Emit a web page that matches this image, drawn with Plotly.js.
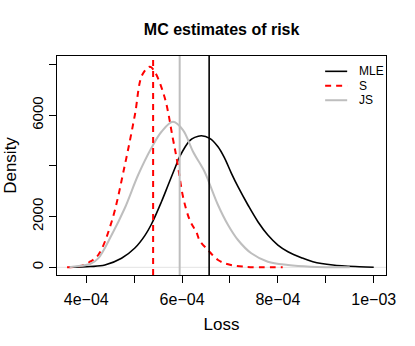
<!DOCTYPE html>
<html>
<head>
<meta charset="utf-8">
<script src="https://cdn.plot.ly/plotly-3.0.1.min.js"></script>
<style>
  html, body { margin: 0; padding: 0; background: #ffffff; }
  #graph { width: 415px; height: 346px; }
</style>
</head>
<body>
<div id="graph"></div>
<script>
// MC estimates of risk: density of the loss for three estimators

// series values (loss in units of 1e-4, density)
var mleLoss = [3.64, 4.08, 4.39, 4.737, 5.015, 5.223, 5.36, 5.57, 5.71, 5.85, 5.95, 6.16, 6.265, 6.404, 6.577, 6.75, 6.89, 7.03, 7.167, 7.375, 7.583, 7.79, 8.0, 8.21, 8.49, 8.73, 9.146, 9.70, 10.0];
var mleDens = [2, 30, 90, 355, 760, 1250, 1700, 2590, 3250, 3910, 4366, 5000, 5130, 5196, 5093, 4761, 4303, 3711, 3182, 2460, 1800, 1275, 880, 616, 379, 221, 91, 24, 4];

var sLoss = [3.60, 3.87, 4.06, 4.25, 4.53, 4.806, 5.015, 5.167, 5.327, 5.43, 5.64, 5.806, 5.90, 6.02, 6.16, 6.30, 6.37, 6.54, 6.75, 6.96, 7.30, 8.10];
var sDens = [0, 50, 200, 486, 1800, 4039, 6013, 7592, 7920, 7722, 6684, 5105, 4170, 2787, 1867, 1380, 1050, 683, 288, 118, 24, 0];

var jsLoss = [3.65, 3.765, 4.08, 4.25, 4.53, 4.806, 5.083, 5.36, 5.57, 5.81, 6.02, 6.23, 6.47, 6.57, 6.75, 6.96, 7.167, 7.445, 7.79, 8.21, 8.68, 9.5];
var jsDens = [0, 30, 130, 355, 1275, 2341, 3644, 4710, 5353, 5748, 5420, 4564, 3774, 3316, 2460, 1670, 1078, 553, 221, 91, 24, 0];

// mean loss of each estimator (vertical lines)
var means = {MLE: 6.565, S: 5.396, JS: 5.95};

var seriesNames = ["MLE", "S", "JS"];
var seriesColors = ["#000000", "#ff0000", "#bebebe"];
var seriesDash = ["solid", "6px,5px", "solid"];
var seriesWidth = [1.6, 2, 2];

var xTickVals = [4, 5, 6, 7, 8, 9, 10];
var xTickText = ["4e\u221204", "", "6e\u221204", "", "8e\u221204", "", "1e\u221203"];
var yTickVals = [0, 2000, 4000, 6000, 8000];
var yTickText = ["0", "2000", "", "6000", ""];

var font = "Liberation Sans, Arial, Helvetica, sans-serif";

function scale(arr) {
  return arr.map(function (v) { return v * 1e-4; });
}

var lossData = [mleLoss, sLoss, jsLoss];
var densData = [mleDens, sDens, jsDens];

var dataArray = [];
for (var i = 0; i < seriesNames.length; i++) {
  dataArray.push({
    x: scale(lossData[i]),
    y: densData[i],
    mode: "lines",
    type: "scatter",
    line: {color: seriesColors[i], width: seriesWidth[i], dash: seriesDash[i], shape: "spline", smoothing: 1},
    name: seriesNames[i],
    showlegend: false,
    hoverinfo: "skip"
  });
}

var shapes = [];
// zero line
shapes.push({type: "line", xref: "paper", yref: "y", x0: 0, x1: 1, y0: 0, y1: 0,
  line: {color: "#e3e3e3", width: 1}, layer: "below"});
// mean lines
for (var j = 0; j < seriesNames.length; j++) {
  var m = means[seriesNames[j]] * 1e-4;
  shapes.push({type: "line", xref: "x", yref: "paper", x0: m, x1: m, y0: 0, y1: 1,
    line: {color: seriesColors[j], width: seriesWidth[j], dash: seriesDash[j]}});
}

// hand-made legend (R style, no border)
var annotations = [];
var legTop = 0.93, legStep = 0.066;
for (var k = 0; k < seriesNames.length; k++) {
  var ly = legTop - k * legStep;
  shapes.push({type: "line", xref: "paper", yref: "paper", x0: 0.815, x1: 0.882, y0: ly, y1: ly,
    line: {color: seriesColors[k], width: seriesWidth[k], dash: seriesDash[k]}});
  annotations.push({xref: "paper", yref: "paper", x: 0.912, y: ly, xanchor: "left", yanchor: "middle",
    text: seriesNames[k], showarrow: false, font: {family: font, size: 12, color: "#000"}});
}

var layout = {
  width: 415,
  height: 346,
  margin: {l: 57, r: 29, t: 56, b: 71},
  paper_bgcolor: "#ffffff",
  plot_bgcolor: "#ffffff",
  showlegend: false,
  title: {
    text: "<b>MC estimates of risk</b>",
    font: {family: font, size: 16, color: "#000"},
    x: 0.534, xanchor: "center", y: 0.915, yanchor: "middle"
  },
  xaxis: {
    range: [3.39e-4, 1.0256e-3],
    tickmode: "array",
    tickvals: scale(xTickVals),
    ticktext: xTickText,
    ticks: "outside",
    ticklen: 7,
    tickcolor: "#000",
    ticklabelstandoff: 3,
    tickfont: {family: font, size: 16, color: "#000"},
    showline: true,
    linecolor: "#000",
    linewidth: 1,
    mirror: true,
    showgrid: false,
    zeroline: false,
    title: {text: "Loss", font: {family: font, size: 17, color: "#000"}, standoff: 10}
  },
  yaxis: {
    range: [-304, 8343],
    tickmode: "array",
    tickvals: yTickVals,
    ticktext: yTickText,
    tickangle: -90,
    ticks: "outside",
    ticklen: 7,
    tickcolor: "#000",
    tickfont: {family: font, size: 15, color: "#000"},
    showline: true,
    linecolor: "#000",
    linewidth: 1,
    mirror: true,
    showgrid: false,
    zeroline: false,
    title: {text: "Density", font: {family: font, size: 17, color: "#000"}, standoff: 8}
  },
  shapes: shapes,
  annotations: annotations
};

Plotly.newPlot(document.getElementById("graph"), dataArray, layout, {staticPlot: true, displayModeBar: false});
</script>
</body>
</html>
